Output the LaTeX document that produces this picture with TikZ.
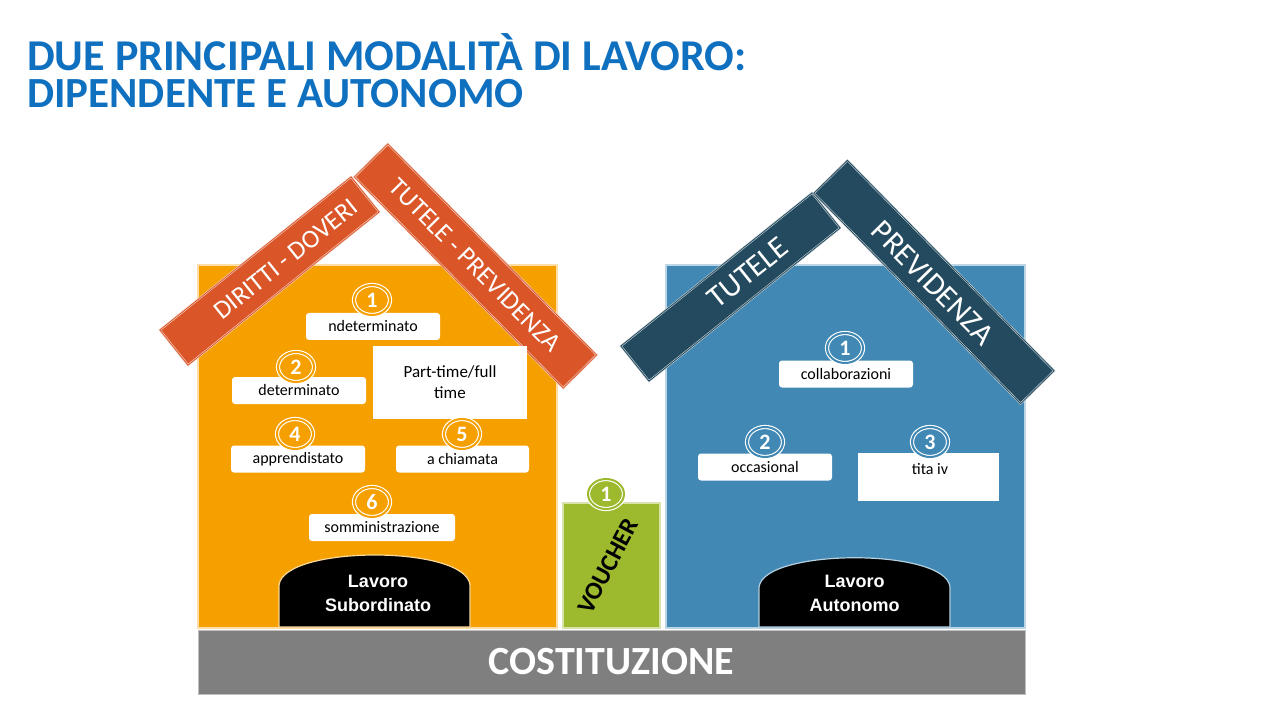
\documentclass[tikz,border=0pt]{standalone}
\usepackage{fontspec}
\usetikzlibrary{shapes.geometric}
\setmainfont{Carlito}
\newfontfamily\arialfont{Liberation Sans}
\definecolor{titleblue}{HTML}{1070C0}
\definecolor{houseorange}{HTML}{F6A000}
\definecolor{roofred}{HTML}{DA5628}
\definecolor{houseblue}{HTML}{4189B4}
\definecolor{roofdark}{HTML}{234A5E}
\definecolor{vgreen}{HTML}{9DB92E}
\definecolor{basegray}{HTML}{7F7F7F}
\tikzset{
  house/.style={draw=#1!35!white, line width=1.5pt},
  roofbar/.style={fill=#1, draw=white!75!#1, double=#1, double distance=0.8pt, line width=0.6pt, inner sep=0pt},
  rooftxt/.style={text=white, inner sep=0pt},
  numc/.style={ellipse, fill=#1, draw=white, double=#1, double distance=2pt, line width=1.1pt, minimum width=36pt, minimum height=30pt, inner sep=0pt, text=white, font=\fontsize{22}{22}\selectfont\bfseries},
  lbl/.style={fill=white, rounded corners=3pt, minimum height=27pt, inner sep=0pt, text=black, font=\fontsize{16}{16}\selectfont},
  archtxt/.style={text=white, font=\arialfont\bfseries\fontsize{18}{24}\selectfont, align=center},
}
\begin{document}
\begin{tikzpicture}[x=1pt, y=-1pt]
\useasboundingbox (0,0) rectangle (1280,719);
\fill[white] (0,0) rectangle (1280,719);

% title
\node[anchor=base west, text=titleblue, font=\fontsize{44}{44}\selectfont\bfseries, inner sep=0pt] (t1) at (27,71) {DUE PRINCIPALI MODALITÀ DI LAVORO:};
\node[anchor=base west, text=titleblue, font=\fontsize{43}{43}\selectfont\bfseries, inner sep=0pt] (t2) at (27,108) {DIPENDENTE E AUTONOMO};

% left house
\path[fill=houseorange, house=houseorange] (198,265) rectangle (557,628);
\node[roofbar=roofred, minimum width=245pt, minimum height=45pt, rotate=38.7] (rl1) at (269.5,271) {};
\node[rooftxt, rotate=38.7, font=\fontsize{26}{26}\selectfont] (rl1t) at (286,259) {DIRITTI - DOVERI};
\node[roofbar=roofred, minimum width=297pt, minimum height=47pt, rotate=-45.3] (rl2) at (475.5,266) {};
\node[rooftxt, rotate=-45.3, font=\fontsize{26}{26}\selectfont] (rl2t) at (475,265) {TUTELE - PREVIDENZA};

\node[lbl, minimum width=134pt] (l1) at (373,326.5) {ndeterminato};
\node[numc=houseorange] (n1) at (372,300) {1};
\node[lbl, minimum width=134pt] (l2) at (299,390.5) {determinato};
\node[numc=houseorange] (n2) at (296,367) {2};
\node[fill=white, minimum width=154pt, minimum height=73pt, inner sep=0pt, align=center, font=\fontsize{17}{21}\selectfont] (pt) at (450,382.5) {Part-time/full\\time};
\node[lbl, minimum width=134pt] (l4) at (298,459) {apprendistato};
\node[numc=houseorange] (n4) at (295,434) {4};
\node[lbl, minimum width=133pt] (l5) at (462.5,459) {a chiamata};
\node[numc=houseorange] (n5) at (462,434) {5};
\node[lbl, minimum width=146pt] (l6) at (382,527.5) {somministrazione};
\node[numc=houseorange] (n6) at (372,502) {6};

\draw[fill=black, draw=white!60!houseorange, line width=1.2pt] (279,627) -- (279,585) .. controls (284,545) and (466,545) .. (470,585) -- (470,627) -- cycle;
\node[archtxt] (a1) at (378,593) {Lavoro\\Subordinato};

% voucher
\path[fill=vgreen, draw=vgreen!40!white, line width=1.2pt] (563,503) rectangle (660,628);
\node[numc=vgreen] (v1) at (606,494) {1};
\node[rotate=62, text=black, font=\fontsize{25}{25}\selectfont\bfseries] (vt) at (608,566) {VOUCHER};

% right house
\path[fill=houseblue, house=houseblue] (666,265) rectangle (1025,628);
\node[roofbar=roofdark, minimum width=245pt, minimum height=45pt, rotate=38.7] (rr1) at (730.5,287) {};
\node[rooftxt, rotate=38.7, font=\fontsize{31}{31}\selectfont] (rr1t) at (748,273) {TUTELE};
\node[roofbar=roofdark, minimum width=295pt, minimum height=47pt, rotate=-45.5] (rr2) at (934,282) {};
\node[rooftxt, rotate=-45.5, font=\fontsize{31}{31}\selectfont] (rr2t) at (933,283) {PREVIDENZA};

\node[lbl, minimum width=134pt] (r1) at (846,374) {collaborazioni};
\node[numc=houseblue] (m1) at (845,348) {1};
\node[lbl, minimum width=134pt] (r2) at (765,467) {occasional};
\node[numc=houseblue] (m2) at (765,442) {2};
\node[fill=white, minimum width=141pt, minimum height=48pt, inner sep=0pt] (r3) at (928.5,477) {};
\node[text=black, font=\fontsize{16}{16}\selectfont] (r3t) at (930,469) {tita iv};
\node[numc=houseblue] (m3) at (930,442) {3};

\draw[fill=black, draw=white!60!houseblue, line width=1.2pt] (759,627) -- (759,587) .. controls (764,548) and (946,548) .. (950,587) -- (950,627) -- cycle;
\node[archtxt] (a2) at (854.5,593) {Lavoro\\Autonomo};

% base
\node[fill=basegray, draw=basegray!50!white, line width=1pt, minimum width=827pt, minimum height=64pt, inner sep=0pt, text=white, font=\fontsize{40}{40}\selectfont\bfseries] (base) at (611.5,662) {COSTITUZIONE};
\end{tikzpicture}
\end{document}
